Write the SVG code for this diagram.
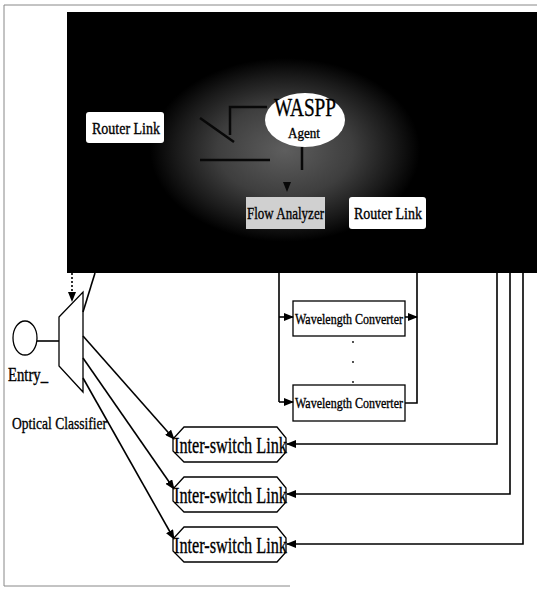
<svg xmlns="http://www.w3.org/2000/svg" width="539" height="589" viewBox="0 0 539 589">
<style>
.t{font-family:"Liberation Serif","Times New Roman",serif;fill:#000;stroke:#000;stroke-width:0.35}
.ln{stroke:#000;stroke-width:1.6;fill:none}
.box{fill:#fff;stroke:#000;stroke-width:1.3}
.frame{stroke:#888;stroke-width:1;fill:none}
.faint{stroke:#080808;stroke-width:2.5;fill:none}
</style>
<defs>
<radialGradient id="glow" cx="285" cy="150" r="135" gradientUnits="userSpaceOnUse" gradientTransform="translate(285 150) scale(1 0.68) translate(-285 -150)">
<stop offset="0" stop-color="#5e5e5e"/>
<stop offset="0.5" stop-color="#3e3e3e"/>
<stop offset="0.8" stop-color="#1a1a1a"/>
<stop offset="1" stop-color="#000"/>
</radialGradient>
<marker id="ah" markerWidth="10" markerHeight="8" refX="9" refY="4" orient="auto" markerUnits="userSpaceOnUse">
<path d="M0,0 L10,4 L0,8 z" fill="#000"/>
</marker>
</defs>
<rect width="539" height="589" fill="#fff"/>
<path class="frame" d="M4,5 H537 M4,5 V586 H290"/>
<g id="switch-core">
<rect x="67" y="12" width="470" height="261" fill="#000"/>
<rect x="67" y="12" width="470" height="261" fill="url(#glow)"/>
<path class="faint" d="M267,107 H230 V135 M200,118 L234,142 M200,160 H270 M302,147 V170"/>
<path d="M283,182 L291,182 L287,192 z" fill="#080808"/>
</g>
<g id="router-link-left">
<rect x="86" y="112" width="78" height="31" rx="3" fill="#fff"/>
<text class="t" x="92" y="134" font-size="17" textLength="68" lengthAdjust="spacingAndGlyphs">Router Link</text>
</g>
<g id="waspp-agent">
<ellipse cx="305" cy="120" rx="40" ry="27" fill="#fff"/>
<text class="t" x="274" y="116" font-size="25" textLength="62" lengthAdjust="spacingAndGlyphs">WASPP</text>
<text class="t" x="288" y="138" font-size="15" textLength="32" lengthAdjust="spacingAndGlyphs">Agent</text>
</g>
<g id="flow-analyzer">
<rect x="246" y="197" width="79" height="32" fill="#d0d0d0"/>
<text class="t" x="247" y="219" font-size="17" textLength="77" lengthAdjust="spacingAndGlyphs">Flow Analyzer</text>
</g>
<g id="router-link-right">
<rect x="349" y="197" width="77" height="32" rx="3" fill="#fff"/>
<text class="t" x="354" y="219" font-size="17" textLength="68" lengthAdjust="spacingAndGlyphs">Router Link</text>
</g>
<g id="entry">
<ellipse cx="25" cy="338" rx="12" ry="17" class="box"/>
<text class="t" x="8" y="381" font-size="18" textLength="40" lengthAdjust="spacingAndGlyphs">Entry_</text>
</g>
<g id="optical-classifier">
<polygon points="59,317 83,292 83,392 59,366" class="box"/>
<text class="t" x="12" y="429" font-size="17" textLength="95" lengthAdjust="spacingAndGlyphs">Optical Classifier</text>
</g>
<g id="wavelength-converter-1">
<rect x="293" y="301" width="112" height="35" class="box"/>
<text class="t" x="295" y="324" font-size="15" textLength="108" lengthAdjust="spacingAndGlyphs">Wavelength Converter</text>
</g>
<g id="dots">
<circle cx="353" cy="342" r="0.9" fill="#000"/>
<circle cx="353" cy="362" r="0.9" fill="#000"/>
<circle cx="353" cy="382" r="0.9" fill="#000"/>
</g>
<g id="wavelength-converter-2">
<rect x="293" y="385" width="112" height="36" class="box"/>
<text class="t" x="295" y="408" font-size="15" textLength="108" lengthAdjust="spacingAndGlyphs">Wavelength Converter</text>
</g>
<g id="inter-switch-link-1">
<polygon points="184,427 277,427 286,438 286,452 277,462 184,462 173,451 173,439" class="box"/>
<text class="t" x="174" y="453" font-size="24" textLength="113" lengthAdjust="spacingAndGlyphs">Inter-switch Link</text>
</g>
<g id="inter-switch-link-2">
<polygon points="184,477 277,477 286,488 286,502 277,512 184,512 173,501 173,489" class="box"/>
<text class="t" x="174" y="503" font-size="24" textLength="113" lengthAdjust="spacingAndGlyphs">Inter-switch Link</text>
</g>
<g id="inter-switch-link-3">
<polygon points="184,527 277,527 286,538 286,552 277,562 184,562 173,551 173,539" class="box"/>
<text class="t" x="174" y="553" font-size="24" textLength="113" lengthAdjust="spacingAndGlyphs">Inter-switch Link</text>
</g>
<g id="connectors">
<line x1="72" y1="273" x2="72" y2="301" class="ln" stroke-dasharray="2,2" marker-end="url(#ah)"/>
<line x1="95" y1="273" x2="83" y2="312" class="ln"/>
<line x1="37" y1="341" x2="59" y2="341" class="ln"/>
<line x1="83" y1="336" x2="174" y2="439" class="ln" marker-end="url(#ah)"/>
<line x1="83" y1="358" x2="174" y2="489" class="ln" marker-end="url(#ah)"/>
<line x1="83" y1="378" x2="174" y2="539" class="ln" marker-end="url(#ah)"/>
<path d="M279,273 V402" class="ln"/>
<path d="M279,317 H293" class="ln" marker-end="url(#ah)"/>
<path d="M279,402 H293" class="ln" marker-end="url(#ah)"/>
<path d="M405,317 H417" class="ln" marker-end="url(#ah)"/>
<path d="M405,403 H417 V273" class="ln"/>
<path d="M497,273 V444 H287" class="ln" marker-end="url(#ah)"/>
<path d="M510,273 V494 H287" class="ln" marker-end="url(#ah)"/>
<path d="M523,273 V544 H287" class="ln" marker-end="url(#ah)"/>
</g>
</svg>
